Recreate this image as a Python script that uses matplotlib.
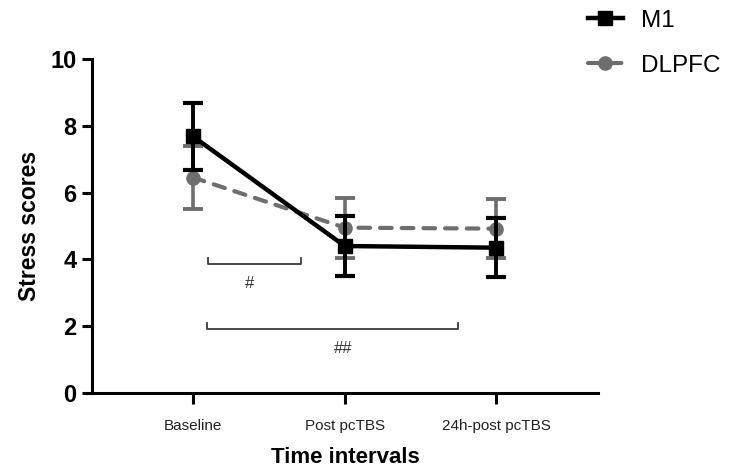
import matplotlib
matplotlib.use("Agg")
import matplotlib.pyplot as plt

plt.rcParams['font.family'] = ['Liberation Sans', 'DejaVu Sans']

# values
intervals = ['Baseline', 'Post pcTBS', '24h-post pcTBS']
m1_mean = [7.68, 4.40, 4.35]
m1_err = [1.0, 0.90, 0.88]
dlpfc_mean = [6.45, 4.95, 4.92]
dlpfc_err = [0.95, 0.90, 0.88]

# significance brackets: (x start, x end, y level, label, label x, label y)
brackets = [(0.10, 0.71, 3.87, '#', 0.37, 3.28),
            (0.09, 1.75, 1.92, '##', 0.99, 1.33)]

M1_COLOR = '#000000'
DLPFC_COLOR = '#6e6e6e'

fig = plt.figure(figsize=(7.33, 4.68), dpi=100)
ax = fig.add_axes([0.1255, 0.1603, 0.6903, 0.7137])

x = list(range(len(intervals)))

# DLPFC underneath
ax.errorbar(x, dlpfc_mean, yerr=dlpfc_err, fmt='none', ecolor=DLPFC_COLOR,
            elinewidth=2.6, capsize=7, capthick=2.8, zorder=2)
ax.plot(x, dlpfc_mean, color=DLPFC_COLOR, linestyle=(0, (2.8, 2.4)), linewidth=3,
        dash_capstyle='round', marker='o', markersize=9.5, label='DLPFC', zorder=3)

# M1 on top
ax.errorbar(x, m1_mean, yerr=m1_err, fmt='none', ecolor=M1_COLOR,
            elinewidth=2.8, capsize=7, capthick=3, zorder=4)
ax.plot(x, m1_mean, color=M1_COLOR, linewidth=3.2, marker='s', markersize=10.5,
        label='M1', zorder=5)

for x0, x1, yb, lab, xt, yt in brackets:
    ax.plot([x0, x0, x1, x1], [yb + 0.17, yb, yb, yb + 0.17], color='#3a3a3a',
            linewidth=1.3, zorder=1)
    ax.text(xt, yt, lab, ha='center', va='center', fontsize=12, color='#333333')

ax.set_xlim(-0.667, 2.67)
ax.set_ylim(0, 10)
ax.set_xticks(x)
ax.set_xticklabels(intervals, fontsize=11, color='#222222')
ax.set_yticks([0, 2, 4, 6, 8, 10])
ax.set_yticklabels(['0', '2', '4', '6', '8', '10'], fontsize=17, fontweight='bold')
ax.set_xlabel('Time intervals', fontsize=16, fontweight='bold', labelpad=10)
ax.set_ylabel('Stress scores', fontsize=16.5, fontweight='bold', labelpad=7)

for side in ['top', 'right']:
    ax.spines[side].set_visible(False)
for side in ['left', 'bottom']:
    ax.spines[side].set_linewidth(2.2)
ax.tick_params(axis='y', width=2.2, length=7, pad=4)
ax.tick_params(axis='x', width=2.2, length=8, pad=11)

handles, labels = ax.get_legend_handles_labels()
fig.legend(handles[::-1], labels[::-1], loc='upper left',
           bbox_to_anchor=(0.785, 1.005), frameon=False, fontsize=17.5,
           handlelength=1.45, handletextpad=0.75, labelspacing=0.95, borderpad=0)

fig.savefig('out.png', dpi=100)
